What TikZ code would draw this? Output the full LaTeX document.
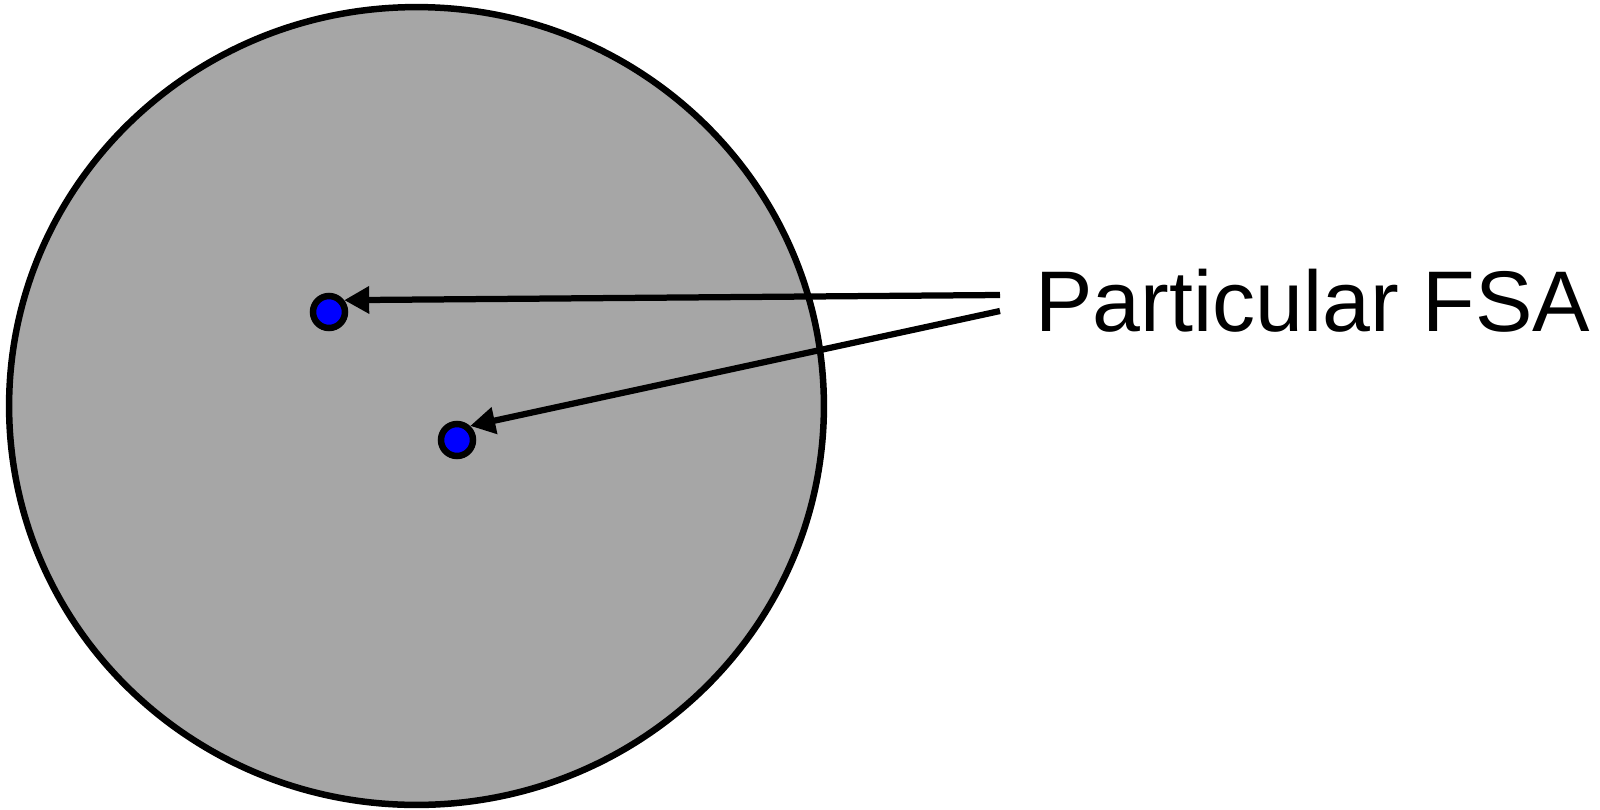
\documentclass[tikz,border=0pt]{standalone}
\usepackage{fontspec}
\setmainfont{Liberation Sans}
\usepackage{tikz}
\usetikzlibrary{arrows.meta, positioning}
\definecolor{sgray}{HTML}{A6A6A6}
\definecolor{sblue}{HTML}{0000FF}

\begin{document}
\begin{tikzpicture}[x=0.02cm, y=-0.02cm,
  fsa/.style={circle, fill=sblue, draw=black, line width=1.3mm, minimum size=0.64cm, inner sep=0pt},
  pointer/.style={draw=black, line width=1.25mm, -{Triangle[length=0.5cm, width=0.52cm]}}]
\useasboundingbox (0,0) rectangle (1600,809);
\draw[fill=sgray, line width=1.3mm] (416.5,406) ellipse [x radius=8.15cm, y radius=7.98cm];
\node[fsa] (fsaA) at (329,312) {};
\node[fsa] (fsaB) at (457,440) {};
\node[font=\fontsize{49}{59}\selectfont, anchor=base west, inner sep=0pt]
  (label) at (1035,331) {Particular FSA};
\coordinate (srcA) at (1000,295);
\coordinate (srcB) at (1000,311);
\draw[pointer] (srcA) -- (fsaA.38);
\draw[pointer] (srcB) -- (fsaB.47);
\end{tikzpicture}
\end{document}
